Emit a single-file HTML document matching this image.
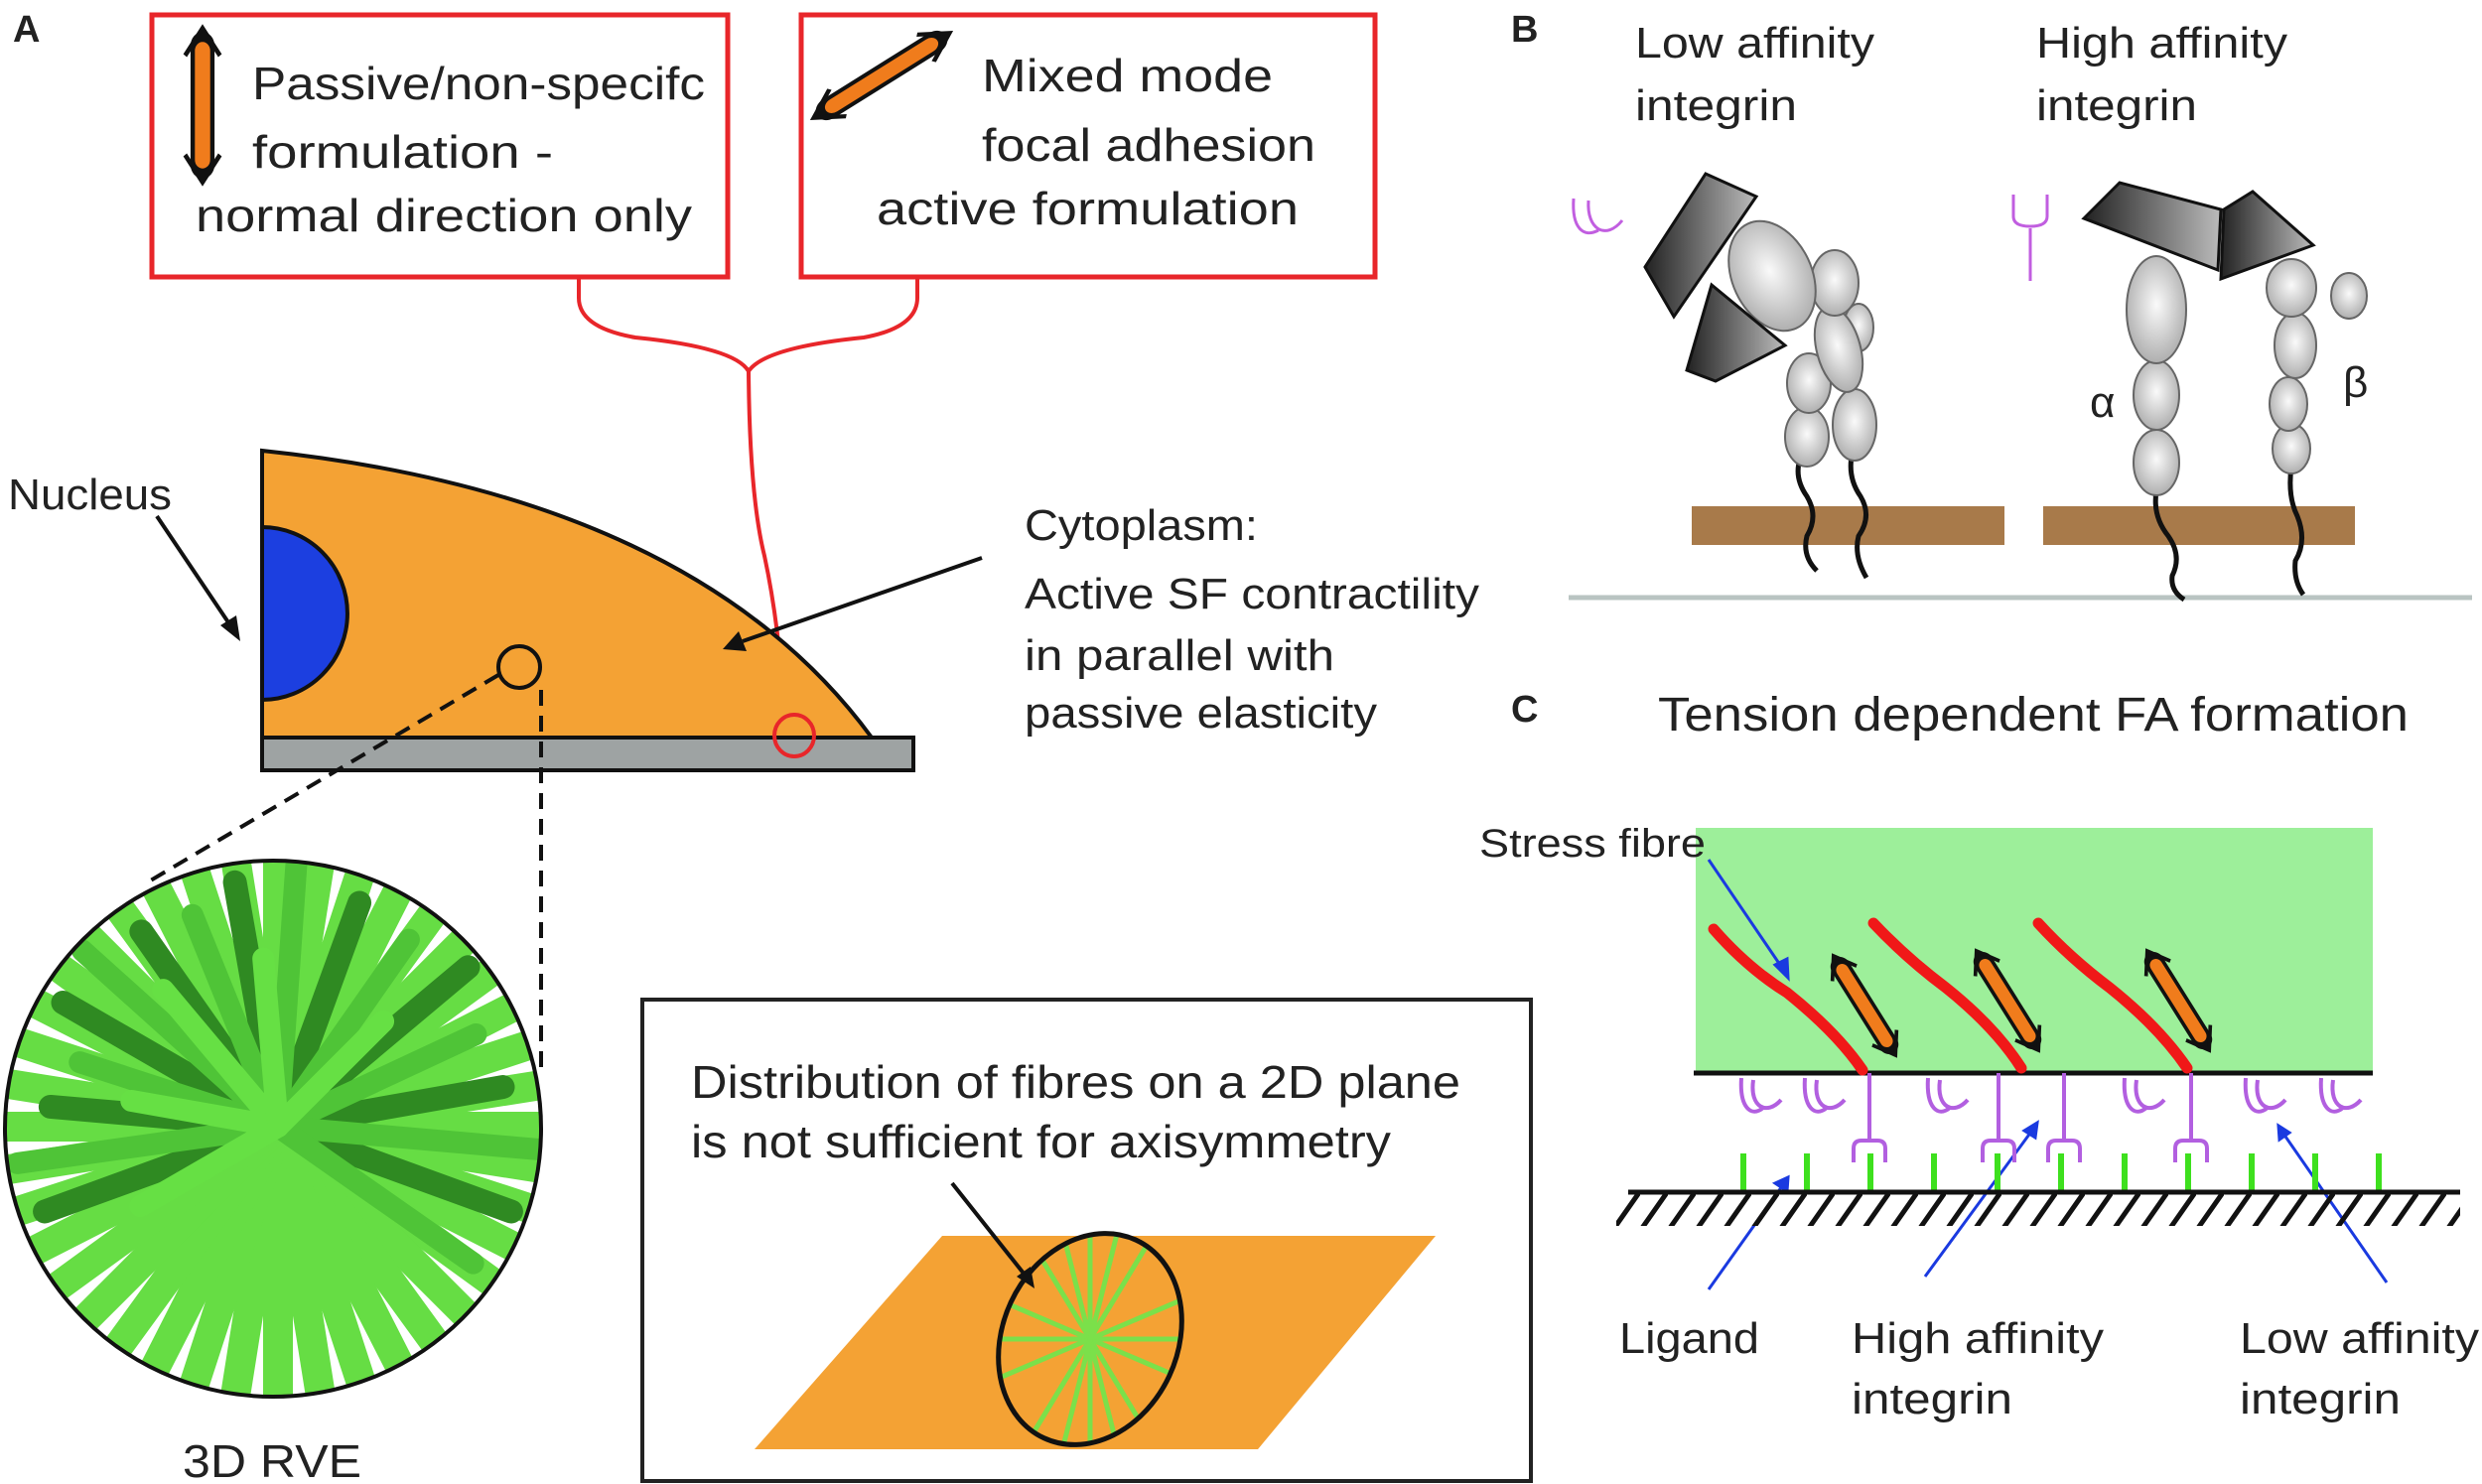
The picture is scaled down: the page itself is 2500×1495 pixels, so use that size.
<!DOCTYPE html>
<html><head><meta charset="utf-8"><style>
html,body{margin:0;padding:0;background:#fff;}
svg{display:block;}
text{font-family:"Liberation Sans",sans-serif;fill:#222;}
</style></head><body>
<svg width="2500" height="1495" viewBox="0 0 2500 1495" xmlns="http://www.w3.org/2000/svg">
<defs>
<clipPath id="rve"><circle cx="275" cy="1137" r="270"/></clipPath>
<clipPath id="ell"><ellipse cx="1098" cy="1349" rx="88" ry="110" transform="rotate(25 1098 1349)"/></clipPath>
<pattern id="hatch" x="0" y="0" width="28" height="40" patternUnits="userSpaceOnUse">
<line x1="28" y1="0" x2="0" y2="40" stroke="#111" stroke-width="5"/>
</pattern>
<g id="dblarrow">
<line x1="-48" y1="0" x2="48" y2="0" stroke="#111" stroke-width="22" stroke-linecap="round"/>
<line x1="-44" y1="0" x2="44" y2="0" stroke="#f07c1c" stroke-width="14" stroke-linecap="round"/>
<polyline points="-40,-16 -62,0 -40,16" fill="none" stroke="#111" stroke-width="4"/>
<polyline points="40,-16 62,0 40,16" fill="none" stroke="#111" stroke-width="4"/>
</g>
<path id="low" d="M0 0 C-2 30 10 40 22 30 M12 2 C8 30 26 38 40 22" fill="none" stroke="#b25fe0" stroke-width="4"/>
<path id="high" d="M0 0 V68 M-16 90 V76 Q-16 68 -8 68 H8 Q16 68 16 76 V90" fill="none" stroke="#b25fe0" stroke-width="4"/>
<radialGradient id="gr" cx="0.5" cy="0.45" r="0.6"><stop offset="0" stop-color="#fafafa"/><stop offset="1" stop-color="#a8a8a8"/></radialGradient>
<linearGradient id="blk" x1="0" y1="0" x2="1" y2="0"><stop offset="0" stop-color="#222"/><stop offset="1" stop-color="#bbb"/></linearGradient>
<line id="f" x1="0" y1="0" x2="0" y2="-285"/>
</defs>

<!-- PANEL A -->
<text x="13" y="42" font-size="38" font-weight="bold" fill="#111">A</text>
<rect x="153" y="15" width="580" height="264" fill="#fff" stroke="#e8262a" stroke-width="5"/>
<rect x="807" y="15" width="578" height="264" fill="#fff" stroke="#e8262a" stroke-width="5"/>
<text x="254" y="100" font-size="46" textLength="456" lengthAdjust="spacingAndGlyphs">Passive/non-specifc</text>
<text x="254" y="169" font-size="46" textLength="303" lengthAdjust="spacingAndGlyphs">formulation -</text>
<text x="197" y="233" font-size="46" textLength="500" lengthAdjust="spacingAndGlyphs">normal direction only</text>
<text x="989" y="92" font-size="46" textLength="293" lengthAdjust="spacingAndGlyphs">Mixed mode</text>
<text x="989" y="162" font-size="46" textLength="336" lengthAdjust="spacingAndGlyphs">focal adhesion</text>
<text x="883" y="226" font-size="46" textLength="425" lengthAdjust="spacingAndGlyphs">active formulation</text>
<use href="#dblarrow" transform="translate(204,106) rotate(90) scale(1.25,1.1)"/>
<use href="#dblarrow" transform="translate(888,76) rotate(-32) scale(1.3,1)"/>
<path d="M583 281 V300 Q583 330 640 340 Q740 350 754 374 Q770 350 870 340 Q924 330 924 300 V281" fill="none" stroke="#e8262a" stroke-width="4"/>
<path d="M754 374 Q755 500 770 560 Q785 630 790 718" fill="none" stroke="#e8262a" stroke-width="4"/>
<path d="M264 454 Q700 500 878 743 H264 Z" fill="#f4a234" stroke="#111" stroke-width="4"/>
<path d="M264 531 A86 87 0 0 1 264 705 Z" fill="#1c3fe0" stroke="#111" stroke-width="4"/>
<rect x="264" y="743" width="656" height="33" fill="#9ea3a3" stroke="#111" stroke-width="4"/>
<ellipse cx="800" cy="741" rx="20" ry="21" fill="none" stroke="#e8262a" stroke-width="4"/>
<circle cx="523" cy="672" r="21" fill="none" stroke="#111" stroke-width="4"/>
<line x1="502" y1="680" x2="150" y2="888" stroke="#111" stroke-width="4" stroke-dasharray="16,10"/>
<line x1="545" y1="695" x2="545" y2="1075" stroke="#111" stroke-width="4" stroke-dasharray="16,10"/>
<text x="8" y="513" font-size="44" textLength="165" lengthAdjust="spacingAndGlyphs">Nucleus</text>
<line x1="158" y1="520" x2="232" y2="630" stroke="#111" stroke-width="4"/>
<polygon points="242,646 222,630 238,620" fill="#111"/>
<text x="1032" y="544" font-size="44" textLength="235" lengthAdjust="spacingAndGlyphs">Cytoplasm:</text>
<text x="1032" y="613" font-size="44" textLength="458" lengthAdjust="spacingAndGlyphs">Active SF contractility</text>
<text x="1032" y="675" font-size="44" textLength="312" lengthAdjust="spacingAndGlyphs">in parallel with</text>
<text x="1032" y="733" font-size="44" textLength="355" lengthAdjust="spacingAndGlyphs">passive elasticity</text>
<line x1="989" y1="562" x2="748" y2="646" stroke="#111" stroke-width="4"/>
<polygon points="728,654 744,636 752,656" fill="#111"/>
<!-- RVE -->
<g clip-path="url(#rve)">
<rect x="0" y="860" width="550" height="560" fill="#fff"/>
<g transform="translate(280,1135)" stroke-linecap="round">
<g stroke="#66dd44" stroke-width="30">
<use href="#f" transform="rotate(0)"/><use href="#f" transform="rotate(9)"/><use href="#f" transform="rotate(18)"/><use href="#f" transform="rotate(27)"/><use href="#f" transform="rotate(36)"/><use href="#f" transform="rotate(45)"/><use href="#f" transform="rotate(54)"/><use href="#f" transform="rotate(63)"/><use href="#f" transform="rotate(72)"/><use href="#f" transform="rotate(81)"/><use href="#f" transform="rotate(90)"/><use href="#f" transform="rotate(99)"/><use href="#f" transform="rotate(108)"/><use href="#f" transform="rotate(117)"/><use href="#f" transform="rotate(126)"/><use href="#f" transform="rotate(135)"/><use href="#f" transform="rotate(144)"/><use href="#f" transform="rotate(153)"/><use href="#f" transform="rotate(162)"/><use href="#f" transform="rotate(171)"/><use href="#f" transform="rotate(180)"/><use href="#f" transform="rotate(189)"/><use href="#f" transform="rotate(198)"/><use href="#f" transform="rotate(207)"/><use href="#f" transform="rotate(216)"/><use href="#f" transform="rotate(225)"/><use href="#f" transform="rotate(234)"/><use href="#f" transform="rotate(243)"/><use href="#f" transform="rotate(252)"/><use href="#f" transform="rotate(261)"/><use href="#f" transform="rotate(270)"/><use href="#f" transform="rotate(279)"/><use href="#f" transform="rotate(288)"/><use href="#f" transform="rotate(297)"/><use href="#f" transform="rotate(306)"/><use href="#f" transform="rotate(315)"/><use href="#f" transform="rotate(324)"/><use href="#f" transform="rotate(333)"/><use href="#f" transform="rotate(342)"/><use href="#f" transform="rotate(351)"/>
</g>
<g stroke="#2f8a22" stroke-width="24">
<line x1="0" y1="0" x2="0" y2="-250" transform="rotate(-10)"/>
<line x1="0" y1="0" x2="0" y2="-240" transform="rotate(-35)"/>
<line x1="0" y1="0" x2="0" y2="-250" transform="rotate(-60)"/>
<line x1="0" y1="0" x2="0" y2="-230" transform="rotate(-85)"/>
<line x1="0" y1="0" x2="0" y2="-250" transform="rotate(-110)"/>
<line x1="0" y1="0" x2="0" y2="-240" transform="rotate(20)"/>
<line x1="0" y1="0" x2="0" y2="-250" transform="rotate(50)"/>
<line x1="0" y1="0" x2="0" y2="-230" transform="rotate(80)"/>
<line x1="0" y1="0" x2="0" y2="-250" transform="rotate(110)"/>
</g>
<g stroke="#4fc437" stroke-width="22">
<line x1="0" y1="0" x2="0" y2="-265" transform="rotate(4)"/>
<line x1="0" y1="0" x2="0" y2="-230" transform="rotate(-22)"/>
<line x1="0" y1="0" x2="0" y2="-265" transform="rotate(-48)"/>
<line x1="0" y1="0" x2="0" y2="-210" transform="rotate(-72)"/>
<line x1="0" y1="0" x2="0" y2="-265" transform="rotate(-98)"/>
<line x1="0" y1="0" x2="0" y2="-230" transform="rotate(35)"/>
<line x1="0" y1="0" x2="0" y2="-220" transform="rotate(65)"/>
<line x1="0" y1="0" x2="0" y2="-265" transform="rotate(95)"/>
<line x1="0" y1="0" x2="0" y2="-240" transform="rotate(125)"/>
</g>
<g stroke="#66e044" stroke-width="22">
<line x1="0" y1="0" x2="0" y2="-180" transform="rotate(-40)"/>
<line x1="0" y1="0" x2="0" y2="-150" transform="rotate(-80)"/>
<line x1="0" y1="0" x2="0" y2="-170" transform="rotate(-5)"/>
<line x1="0" y1="0" x2="0" y2="-160" transform="rotate(-120)"/>
<line x1="0" y1="0" x2="0" y2="-150" transform="rotate(45)"/>
</g>
</g>
</g>
<circle cx="275" cy="1137" r="270" fill="none" stroke="#111" stroke-width="4"/>
<text x="184" y="1488" font-size="46" textLength="180" lengthAdjust="spacingAndGlyphs">3D RVE</text>
<!-- bottom box -->
<rect x="647" y="1007" width="895" height="485" fill="#fff" stroke="#222" stroke-width="4"/>
<text x="696" y="1106" font-size="46" textLength="775" lengthAdjust="spacingAndGlyphs">Distribution of fibres on a 2D plane</text>
<text x="696" y="1166" font-size="46" textLength="705" lengthAdjust="spacingAndGlyphs">is not sufficient for axisymmetry</text>
<polygon points="949,1245 1446,1245 1267,1460 760,1460" fill="#f4a234"/>
<g clip-path="url(#ell)" stroke="#7be04a" stroke-width="5">
<line x1="1098" y1="1349" x2="1098" y2="1200"/><line x1="1098" y1="1349" x2="1098" y2="1500"/>
<line x1="998" y1="1349" x2="1200" y2="1349"/>
<line x1="1020" y1="1220" x2="1176" y2="1478"/>
<line x1="1176" y1="1220" x2="1020" y2="1478"/>
<line x1="960" y1="1290" x2="1236" y2="1408"/>
<line x1="960" y1="1408" x2="1236" y2="1290"/>
<line x1="1060" y1="1200" x2="1136" y2="1500"/>
<line x1="1136" y1="1200" x2="1060" y2="1500"/>
</g>
<ellipse cx="1098" cy="1349" rx="88" ry="110" transform="rotate(25 1098 1349)" fill="none" stroke="#111" stroke-width="5"/>
<line x1="959" y1="1192" x2="1032" y2="1284" stroke="#111" stroke-width="4"/>
<polygon points="1042,1298 1024,1286 1038,1276" fill="#111"/>

<!-- PANEL B -->
<text x="1522" y="42" font-size="38" font-weight="bold" fill="#111">B</text>
<text x="1647" y="58" font-size="44" textLength="241" lengthAdjust="spacingAndGlyphs">Low affinity</text>
<text x="1647" y="121" font-size="44" textLength="163" lengthAdjust="spacingAndGlyphs">integrin</text>
<text x="2051" y="58" font-size="44" textLength="253" lengthAdjust="spacingAndGlyphs">High affinity</text>
<text x="2051" y="121" font-size="44" textLength="162" lengthAdjust="spacingAndGlyphs">integrin</text>
<rect x="1704" y="510" width="315" height="39" fill="#a87a4a"/>
<rect x="2058" y="510" width="314" height="39" fill="#a87a4a"/>
<line x1="1580" y1="602" x2="2490" y2="602" stroke="#b9c4c2" stroke-width="5"/>
<path d="M1585 200 C1583 230 1595 240 1610 232 M1600 202 C1598 232 1618 242 1634 222" fill="none" stroke="#c15ee0" stroke-width="3"/>
<path d="M2045 230 V283 M2028 196 V218 Q2028 228 2045 228 Q2062 228 2062 218 V196" fill="none" stroke="#c15ee0" stroke-width="3"/>
<g fill="none" stroke="#111" stroke-width="5">
<path d="M1814 460 q-8 20 6 40 q12 20 0 40 q-5 20 10 35"/>
<path d="M1866 455 q-6 25 8 45 q12 20 -2 40 q-5 20 8 42"/>
<path d="M2172 495 q-4 25 12 45 q14 20 4 40 q-2 15 12 24"/>
<path d="M2308 470 q-4 30 6 50 q10 25 -2 45 q-2 20 8 34"/>
</g>
<g fill="url(#gr)" stroke="#666" stroke-width="2">
<ellipse cx="1820" cy="440" rx="22" ry="30"/>
<ellipse cx="1822" cy="386" rx="22" ry="30"/>
<ellipse cx="1868" cy="428" rx="22" ry="36"/>
<ellipse cx="1872" cy="330" rx="15" ry="24"/>
<ellipse cx="1852" cy="352" rx="22" ry="44" transform="rotate(-15 1852 352)"/>
<ellipse cx="1848" cy="285" rx="24" ry="33"/>
<ellipse cx="1785" cy="278" rx="40" ry="58" transform="rotate(-25 1785 278)"/>
<ellipse cx="2172" cy="466" rx="23" ry="33"/>
<ellipse cx="2172" cy="398" rx="23" ry="35"/>
<ellipse cx="2172" cy="312" rx="30" ry="54"/>
<ellipse cx="2308" cy="452" rx="19" ry="25"/>
<ellipse cx="2305" cy="407" rx="19" ry="27"/>
<ellipse cx="2312" cy="348" rx="21" ry="33"/>
<ellipse cx="2308" cy="290" rx="25" ry="29"/>
<ellipse cx="2366" cy="298" rx="18" ry="23"/>
</g>
<g stroke="#111" stroke-width="3">
<polygon points="1657,269 1718,175 1769,198 1686,319" fill="url(#blk)"/>
<polygon points="1699,373 1724,287 1798,348 1728,384" fill="url(#blk)"/>
<polygon points="2099,220 2135,184 2237,211 2234,272" fill="url(#blk)"/>
<polygon points="2240,211 2269,193 2330,247 2237,281" fill="url(#blk)"/>
</g>
<text x="2105" y="420" font-size="44" fill="#111">α</text>
<text x="2360" y="400" font-size="44" fill="#111">β</text>

<!-- PANEL C -->
<text x="1522" y="727" font-size="38" font-weight="bold" fill="#111">C</text>
<text x="1670" y="736" font-size="48" textLength="756" lengthAdjust="spacingAndGlyphs">Tension dependent FA formation</text>
<rect x="1708" y="834" width="682" height="247" fill="#9def9a"/>
<line x1="1706" y1="1081" x2="2390" y2="1081" stroke="#111" stroke-width="5"/>
<g stroke="#f01818" stroke-width="11" stroke-linecap="round" fill="none">
<path d="M1726 936 Q1760 975 1800 1000 Q1850 1040 1876 1078"/>
<path d="M1887 930 Q1920 965 1960 995 Q2010 1035 2036 1076"/>
<path d="M2053 930 Q2085 965 2125 995 Q2175 1035 2203 1076"/>
</g>
<use href="#dblarrow" transform="translate(1878,1013) rotate(58) scale(0.95,0.9)"/>
<use href="#dblarrow" transform="translate(2022,1008) rotate(58) scale(0.95,0.9)"/>
<use href="#dblarrow" transform="translate(2194,1008) rotate(58) scale(0.95,0.9)"/>
<text x="1490" y="863" font-size="40" textLength="228" lengthAdjust="spacingAndGlyphs">Stress fibre</text>
<g stroke="#1a3ae0" stroke-width="3" fill="#1a3ae0">
<line x1="1721" y1="866" x2="1795" y2="975"/><polygon points="1801,985 1788,972 1800,966"/>
<line x1="1721" y1="1299" x2="1795" y2="1195"/><polygon points="1801,1186 1800,1200 1788,1192"/>
<line x1="1939" y1="1286" x2="2046" y2="1140"/><polygon points="2052,1131 2050,1146 2039,1139"/>
<line x1="2404" y1="1292" x2="2300" y2="1142"/><polygon points="2295,1134 2306,1141 2296,1148"/>
</g>
<use href="#low" transform="translate(1754,1086)"/>
<use href="#low" transform="translate(1818,1086)"/>
<use href="#low" transform="translate(1942,1086)"/>
<use href="#low" transform="translate(2140,1086)"/>
<use href="#low" transform="translate(2262,1086)"/>
<use href="#low" transform="translate(2338,1086)"/>
<use href="#high" transform="translate(1883,1081)"/>
<use href="#high" transform="translate(2013,1081)"/>
<use href="#high" transform="translate(2079,1081)"/>
<use href="#high" transform="translate(2207,1081)"/>
<g stroke="#3ee01e" stroke-width="6">
<line x1="1756" y1="1162" x2="1756" y2="1200"/><line x1="1820" y1="1162" x2="1820" y2="1200"/>
<line x1="1884" y1="1162" x2="1884" y2="1200"/><line x1="1948" y1="1162" x2="1948" y2="1200"/>
<line x1="2012" y1="1162" x2="2012" y2="1200"/><line x1="2076" y1="1162" x2="2076" y2="1200"/>
<line x1="2140" y1="1162" x2="2140" y2="1200"/><line x1="2204" y1="1162" x2="2204" y2="1200"/>
<line x1="2268" y1="1162" x2="2268" y2="1200"/><line x1="2332" y1="1162" x2="2332" y2="1200"/>
<line x1="2396" y1="1162" x2="2396" y2="1200"/>
</g>
<rect x="1628" y="1203" width="850" height="32" fill="url(#hatch)"/>
<line x1="1640" y1="1201" x2="2478" y2="1201" stroke="#111" stroke-width="5"/>
<text x="1631" y="1363" font-size="44" textLength="141" lengthAdjust="spacingAndGlyphs">Ligand</text>
<text x="1865" y="1363" font-size="44" textLength="254" lengthAdjust="spacingAndGlyphs">High affinity</text>
<text x="1865" y="1424" font-size="44" textLength="162" lengthAdjust="spacingAndGlyphs">integrin</text>
<text x="2256" y="1363" font-size="44" textLength="241" lengthAdjust="spacingAndGlyphs">Low affinity</text>
<text x="2256" y="1424" font-size="44" textLength="162" lengthAdjust="spacingAndGlyphs">integrin</text>
</svg>
</body></html>
